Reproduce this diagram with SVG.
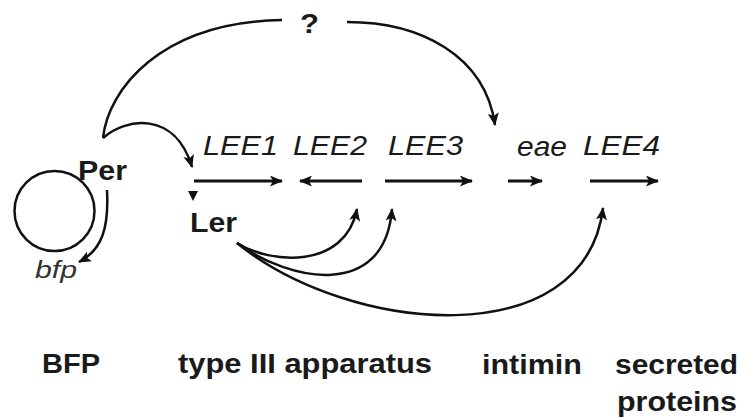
<svg xmlns="http://www.w3.org/2000/svg" width="745" height="419" viewBox="0 0 745 419">
  <style>
    .t { font-family: "Liberation Sans", Arial, sans-serif; fill: #1a1a1a; }
    .b { font-weight: bold; font-size: 27px; }
    .i { font-style: italic; font-size: 27px; }
    .c { fill: none; stroke: #111; stroke-width: 2.5; }
    .g { fill: none; stroke: #111; stroke-width: 3; }
  </style>
  <defs>
    <marker id="ah" markerUnits="userSpaceOnUse" markerWidth="13" markerHeight="11" refX="12" refY="5.5" orient="auto">
      <path d="M0,0 L13,5.5 L0,11 L3,5.5 z" fill="#111"/>
    </marker>
  </defs>

  <g id="plasmid">
    <circle cx="54.5" cy="211" r="40" fill="none" stroke="#111" stroke-width="2.5"/>
  </g>
  <g id="per"><text class="t b" x="78" y="180" textLength="49" lengthAdjust="spacingAndGlyphs">Per</text></g>
  <g id="bfp"><text class="t i" x="35" y="278" font-size="24" style="font-size:24px;fill:#333" textLength="42" lengthAdjust="spacingAndGlyphs">bfp</text></g>
  <g id="ler"><text class="t b" x="190" y="232" textLength="47" lengthAdjust="spacingAndGlyphs">Ler</text></g>
  <g id="unknown"><text class="t b" x="300" y="33" textLength="19" lengthAdjust="spacingAndGlyphs">?</text></g>

  <g id="lee1">
    <text class="t i" x="203" y="155" textLength="75" lengthAdjust="spacingAndGlyphs">LEE1</text>
    <path class="g" d="M194,181 L282,181" marker-end="url(#ah)"/>
  </g>
  <g id="lee2">
    <text class="t i" x="293" y="155" textLength="74" lengthAdjust="spacingAndGlyphs">LEE2</text>
    <path class="g" d="M362,181 L300,181" marker-end="url(#ah)"/>
  </g>
  <g id="lee3">
    <text class="t i" x="388" y="155" textLength="75" lengthAdjust="spacingAndGlyphs">LEE3</text>
    <path class="g" d="M385,181 L472,181" marker-end="url(#ah)"/>
  </g>
  <g id="eae">
    <text class="t i" x="517" y="156" textLength="50" lengthAdjust="spacingAndGlyphs">eae</text>
    <path class="g" d="M508,181 L542,181" marker-end="url(#ah)"/>
  </g>
  <g id="lee4">
    <text class="t i" x="583" y="155" textLength="77" lengthAdjust="spacingAndGlyphs">LEE4</text>
    <path class="g" d="M590,181 L658,181" marker-end="url(#ah)"/>
  </g>

  <g id="labels">
    <text class="t b" x="42" y="373" textLength="58" lengthAdjust="spacingAndGlyphs">BFP</text>
    <text class="t b" x="178" y="373" textLength="254" lengthAdjust="spacingAndGlyphs">type III apparatus</text>
    <text class="t b" x="482" y="374" textLength="100" lengthAdjust="spacingAndGlyphs">intimin</text>
    <text class="t b" x="615" y="374" textLength="123" lengthAdjust="spacingAndGlyphs">secreted</text>
    <text class="t b" x="617" y="411" textLength="120" lengthAdjust="spacingAndGlyphs">proteins</text>
  </g>

  <g id="connectors">
    <path class="c" d="M103,138 C108,90 160,22 282,20"/>
    <path class="c" d="M347,22 C420,22 485,55 495,125" marker-end="url(#ah)"/>
    <path class="c" d="M103,138 C125,118 175,110 192,167" marker-end="url(#ah)"/>
    <path class="c" d="M107,190 C109,228 102,250 79,262" marker-end="url(#ah)"/>
    <path d="M188,191 L198,191 L193,201 z" fill="#111"/>
    <path class="c" d="M237,243 C270,264 345,270 357,209" marker-end="url(#ah)"/>
    <path class="c" d="M237,243 C290,282 385,300 392,209" marker-end="url(#ah)"/>
    <path class="c" d="M237,243 C350,335 585,355 603,208" marker-end="url(#ah)"/>
  </g>
</svg>
